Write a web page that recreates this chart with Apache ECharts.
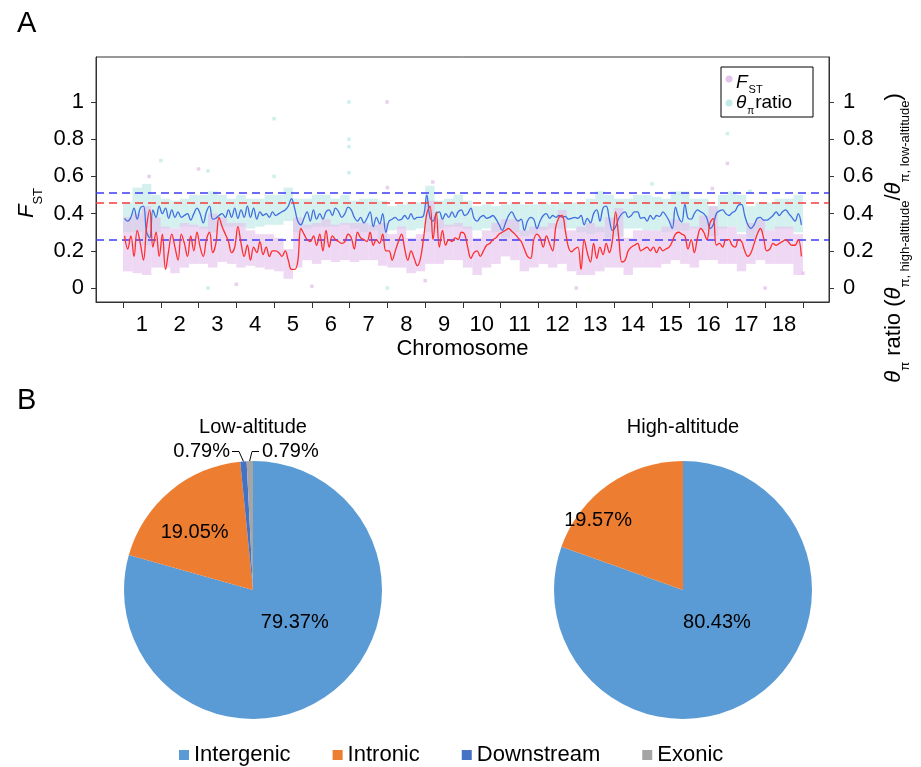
<!DOCTYPE html>
<html>
<head>
<meta charset="utf-8">
<script src="https://cdn.jsdelivr.net/npm/echarts@6/dist/echarts.min.js"></script>
<style>
  html, body { margin: 0; padding: 0; background: #ffffff; }
  #chart { width: 921px; height: 767px; }
</style>
</head>
<body>
<div id="chart"></div>
<script>
// ---- Panel A: genome scan (18 chromosomes, equal-width slots) ----
const chromosomes = ['1','2','3','4','5','6','7','8','9','10','11','12','13','14','15','16','17','18'];

// Smoothed F_ST along each chromosome (12 windows per chromosome)
const fstTrend = [
  [0.28,0.21,0.28,0.17,0.31,0.24,0.15,0.33,0.42,0.22,0.30,0.17],
  [0.29,0.10,0.20,0.29,0.22,0.15,0.29,0.24,0.17,0.28,0.20,0.30],
  [0.22,0.17,0.26,0.30,0.19,0.24,0.38,0.33,0.29,0.25,0.19,0.22],
  [0.33,0.24,0.17,0.23,0.15,0.22,0.19,0.25,0.18,0.22,0.17,0.20],
  [0.20,0.19,0.17,0.20,0.15,0.10,0.10,0.14,0.32,0.29,0.26,0.25],
  [0.28,0.23,0.29,0.20,0.31,0.22,0.28,0.26,0.25,0.24,0.25,0.29],
  [0.27,0.21,0.30,0.27,0.26,0.25,0.30,0.23,0.26,0.24,0.29,0.20],
  [0.20,0.15,0.20,0.25,0.29,0.21,0.15,0.20,0.16,0.12,0.16,0.27],
  [0.40,0.44,0.26,0.41,0.22,0.31,0.23,0.26,0.25,0.27,0.26,0.30],
  [0.29,0.22,0.16,0.19,0.20,0.17,0.20,0.23,0.24,0.26,0.27,0.29],
  [0.30,0.31,0.32,0.305,0.29,0.27,0.25,0.21,0.17,0.16,0.26,0.29],
  [0.27,0.22,0.28,0.24,0.20,0.33,0.38,0.39,0.31,0.22,0.195,0.21],
  [0.22,0.10,0.26,0.19,0.14,0.24,0.16,0.22,0.18,0.24,0.19,0.26],
  [0.41,0.27,0.14,0.15,0.20,0.22,0.23,0.24,0.20,0.21,0.22,0.20],
  [0.22,0.19,0.22,0.20,0.21,0.22,0.25,0.29,0.30,0.29,0.28,0.21],
  [0.26,0.19,0.27,0.32,0.30,0.26,0.35,0.375,0.23,0.24,0.22,0.26],
  [0.26,0.23,0.22,0.26,0.25,0.20,0.17,0.19,0.24,0.29,0.32,0.27],
  [0.20,0.21,0.24,0.23,0.24,0.25,0.26,0.245,0.23,0.23,0.26,0.17]
];

// Smoothed theta-pi ratio along each chromosome (12 windows per chromosome)
const thetaTrend = [
  [0.375,0.36,0.38,0.43,0.37,0.43,0.44,0.30,0.27,0.42,0.38,0.44],
  [0.40,0.43,0.375,0.42,0.38,0.41,0.38,0.39,0.40,0.365,0.40,0.43],
  [0.40,0.35,0.41,0.44,0.37,0.375,0.39,0.40,0.38,0.42,0.38,0.43],
  [0.375,0.42,0.38,0.44,0.38,0.43,0.37,0.41,0.39,0.40,0.38,0.41],
  [0.39,0.40,0.41,0.42,0.44,0.48,0.43,0.36,0.34,0.375,0.41,0.36],
  [0.42,0.37,0.40,0.37,0.41,0.42,0.39,0.43,0.41,0.38,0.40,0.435],
  [0.42,0.38,0.36,0.38,0.35,0.375,0.41,0.33,0.38,0.345,0.40,0.30],
  [0.36,0.37,0.38,0.365,0.37,0.39,0.37,0.40,0.37,0.38,0.38,0.39],
  [0.50,0.38,0.36,0.40,0.41,0.37,0.40,0.38,0.41,0.38,0.41,0.42],
  [0.39,0.40,0.43,0.375,0.36,0.38,0.39,0.375,0.38,0.39,0.37,0.34],
  [0.31,0.35,0.39,0.41,0.38,0.36,0.37,0.31,0.36,0.38,0.37,0.32],
  [0.36,0.39,0.40,0.375,0.39,0.38,0.39,0.38,0.385,0.37,0.375,0.38],
  [0.375,0.39,0.34,0.375,0.35,0.40,0.42,0.36,0.43,0.44,0.37,0.31],
  [0.33,0.375,0.40,0.41,0.38,0.39,0.41,0.41,0.375,0.38,0.36,0.39],
  [0.37,0.39,0.385,0.41,0.39,0.36,0.32,0.435,0.38,0.355,0.45,0.375],
  [0.37,0.40,0.42,0.41,0.40,0.375,0.32,0.34,0.40,0.415,0.42,0.40],
  [0.39,0.405,0.415,0.445,0.45,0.39,0.34,0.32,0.34,0.375,0.38,0.365],
  [0.365,0.375,0.39,0.41,0.39,0.41,0.42,0.40,0.38,0.36,0.40,0.34]
];

// Spread of per-window F_ST values: [low, high] for each quarter of a chromosome
const fstSpread = [
  [[0.09,0.38],[0.08,0.40],[0.07,0.44],[0.11,0.38]],
  [[0.11,0.33],[0.08,0.32],[0.11,0.35],[0.13,0.34]],
  [[0.13,0.33],[0.11,0.40],[0.14,0.38],[0.13,0.35]],
  [[0.11,0.35],[0.12,0.31],[0.11,0.29],[0.10,0.29]],
  [[0.09,0.27],[0.05,0.21],[0.11,0.38],[0.15,0.34]],
  [[0.13,0.35],[0.15,0.37],[0.14,0.34],[0.15,0.35]],
  [[0.14,0.35],[0.15,0.35],[0.15,0.34],[0.12,0.35]],
  [[0.11,0.29],[0.11,0.33],[0.08,0.27],[0.09,0.29]],
  [[0.13,0.47],[0.13,0.37],[0.15,0.34],[0.15,0.35]],
  [[0.11,0.33],[0.07,0.27],[0.11,0.31],[0.13,0.35]],
  [[0.17,0.37],[0.15,0.37],[0.09,0.31],[0.11,0.33]],
  [[0.13,0.33],[0.11,0.35],[0.13,0.42],[0.09,0.31]],
  [[0.07,0.33],[0.07,0.35],[0.09,0.33],[0.11,0.38]],
  [[0.11,0.43],[0.07,0.27],[0.11,0.31],[0.11,0.31]],
  [[0.11,0.31],[0.13,0.33],[0.15,0.37],[0.13,0.35]],
  [[0.11,0.33],[0.15,0.39],[0.15,0.44],[0.13,0.33]],
  [[0.13,0.33],[0.09,0.29],[0.13,0.35],[0.15,0.37]],
  [[0.13,0.31],[0.13,0.33],[0.13,0.33],[0.07,0.29]]
];

// Spread of per-window theta-pi ratios: [low, high] for each quarter of a chromosome
const thetaSpread = [
  [[0.30,0.46],[0.30,0.54],[0.23,0.56],[0.30,0.50]],
  [[0.32,0.48],[0.32,0.47],[0.33,0.48],[0.33,0.50]],
  [[0.32,0.50],[0.30,0.52],[0.33,0.50],[0.33,0.48]],
  [[0.33,0.50],[0.32,0.48],[0.33,0.48],[0.34,0.50]],
  [[0.34,0.50],[0.36,0.54],[0.30,0.48],[0.32,0.48]],
  [[0.33,0.50],[0.33,0.50],[0.33,0.48],[0.34,0.50]],
  [[0.32,0.47],[0.30,0.48],[0.31,0.48],[0.26,0.47]],
  [[0.31,0.44],[0.32,0.45],[0.31,0.46],[0.32,0.46]],
  [[0.30,0.55],[0.32,0.47],[0.33,0.48],[0.33,0.50]],
  [[0.32,0.47],[0.31,0.44],[0.32,0.45],[0.30,0.44]],
  [[0.27,0.45],[0.30,0.46],[0.28,0.45],[0.29,0.45]],
  [[0.31,0.46],[0.32,0.45],[0.32,0.46],[0.32,0.46]],
  [[0.30,0.46],[0.29,0.48],[0.30,0.52],[0.27,0.50]],
  [[0.28,0.48],[0.32,0.48],[0.32,0.50],[0.31,0.50]],
  [[0.31,0.49],[0.30,0.48],[0.31,0.52],[0.31,0.52]],
  [[0.32,0.48],[0.31,0.48],[0.28,0.44],[0.32,0.50]],
  [[0.33,0.52],[0.30,0.50],[0.27,0.44],[0.30,0.46]],
  [[0.31,0.46],[0.32,0.48],[0.32,0.48],[0.30,0.50]]
];

// Isolated windows far from the bulk: [genome position, value]
const fstOutliers = [[0.69,0.60],[2.0,0.64],[3.0,0.02],[5.0,0.01],[6.99,1.0],[7.0,0.54],
  [8.0,0.04],[8.2,0.57],[12.0,0.0],[15.6,0.535],[16.0,0.67],[17.0,0.0],[18.0,0.08]];
const thetaOutliers = [[1.0,0.685],[2.25,0.63],[2.25,0.0],[4.0,0.91],[4.0,0.60],[5.98,1.0],
  [5.98,0.80],[5.98,0.76],[5.98,0.62],[7.0,0.0],[14.0,0.56],[16.0,0.83],[16.6,0.52]];

// Significance cut-offs
const fstCutoff = 0.462;
const thetaCutoffs = [0.511, 0.258];

const yTicks = [0, 0.2, 0.4, 0.6, 0.8, 1];

// ---- Panel B: genomic location of candidate windows (percent) ----
const regionNames = ['Intergenic', 'Intronic', 'Downstream', 'Exonic'];
const lowAltitudeShare = [79.37, 19.05, 0.79, 0.79];
const highAltitudeShare = [80.43, 19.57];

// ---- styling ----
const FONT = "'Liberation Sans', Arial, Helvetica, sans-serif";
const regionColors = ['#5B9BD5', '#ED7D31', '#4472C4', '#A5A5A5'];
const fstDotColor = '#e6c3ec';
const thetaDotColor = '#c2ebe7';
const fstBandColor = 'rgba(228,192,236,0.62)';
const thetaBandColor = 'rgba(190,234,230,0.66)';
const axisColor = '#333333';

function trendPoints(rows) {
  const pts = [];
  rows.forEach((row, c) => row.forEach((v, i) => pts.push([c + (i + 0.5) / row.length, v])));
  return pts;
}
function spreadBins(rows) {
  const out = [];
  rows.forEach((row, c) => row.forEach((r, i) =>
    out.push([c + i / row.length, c + (i + 1) / row.length, r[0], r[1]])));
  return out;
}
function bandRenderer(color) {
  return function (params, api) {
    const topLeft = api.coord([api.value(0), api.value(3)]);
    const bottomRight = api.coord([api.value(1), api.value(2)]);
    return {
      type: 'rect',
      shape: { x: topLeft[0], y: topLeft[1], width: bottomRight[0] - topLeft[0], height: bottomRight[1] - topLeft[1] },
      style: { fill: color }
    };
  };
}

const tickFmt = v => String(Math.round(v * 10) / 10);
const genomeTicks = chromosomes.map((_, i) => i).concat([chromosomes.length]);
const genomeLabelPos = chromosomes.map((_, i) => i + 0.5);

function valueAxis(position, margin) {
  return {
    type: 'value', position: position, min: -0.075, max: 1.242,
    axisLine: { show: true, onZero: false, lineStyle: { color: axisColor, width: 1 } },
    axisTick: { show: true, customValues: yTicks, length: 5, inside: false, lineStyle: { color: axisColor } },
    axisLabel: { customValues: yTicks, formatter: tickFmt, fontSize: 22, color: '#000', fontFamily: FONT, margin: margin },
    splitLine: { show: false }
  };
}

// Pie geometry
const pieCenters = { low: [253, 590], high: [683, 590] };
const pieRadius = 129;

const chart = echarts.init(document.getElementById('chart'), null, { renderer: 'canvas' });

const option = {
  animation: false,
  backgroundColor: '#ffffff',
  textStyle: { fontFamily: FONT },
  title: [
    { text: 'A', left: 17, top: 9, padding: 0, textStyle: { fontSize: 29, fontWeight: 'normal', color: '#000', fontFamily: FONT } },
    { text: 'B', left: 17, top: 386, padding: 0, textStyle: { fontSize: 29, fontWeight: 'normal', color: '#000', fontFamily: FONT } },
    { text: 'Low-altitude', left: pieCenters.low[0], top: 417, padding: 0, textAlign: 'center',
      textStyle: { fontSize: 20, fontWeight: 'normal', color: '#000', fontFamily: FONT } },
    { text: 'High-altitude', left: pieCenters.high[0], top: 417, padding: 0, textAlign: 'center',
      textStyle: { fontSize: 20, fontWeight: 'normal', color: '#000', fontFamily: FONT } }
  ],
  legend: {
    data: regionNames, left: 179, top: 744, padding: 0, icon: 'rect', itemWidth: 10, itemHeight: 10, itemGap: 42,
    textStyle: { fontSize: 22, color: '#000', fontFamily: FONT }
  },
  grid: {
    left: 96, right: 92, top: 57, bottom: 465,
    show: true, borderColor: axisColor, borderWidth: 1, backgroundColor: 'transparent'
  },
  xAxis: {
    type: 'value', min: -0.715, max: 18.69,
    axisLine: { show: true, onZero: false, lineStyle: { color: axisColor, width: 1 } },
    axisTick: { show: true, customValues: genomeTicks, length: 6, lineStyle: { color: axisColor } },
    axisLabel: { customValues: genomeLabelPos, formatter: v => chromosomes[Math.floor(v)],
      fontSize: 22, color: '#000', fontFamily: FONT, margin: 12 },
    splitLine: { show: false },
    name: 'Chromosome', nameLocation: 'middle', nameGap: 36,
    nameTextStyle: { fontSize: 22, color: '#000', fontFamily: FONT }
  },
  yAxis: [valueAxis('left', 12), valueAxis('right', 14)],
  graphic: [
    // left axis title: F_ST
    { type: 'text', x: 28, y: 203, rotation: Math.PI / 2, z: 50,
      style: { text: '{i|F}{s|ST}', align: 'center', verticalAlign: 'middle', fill: '#000',
        rich: {
          i: { fontSize: 22, fontStyle: 'italic', fontFamily: FONT, lineHeight: 24, verticalAlign: 'top' },
          s: { fontSize: 13, fontFamily: FONT, lineHeight: 12, padding: [16, 0, 0, 0], verticalAlign: 'top' }
        } } },
    // right axis title: theta-pi ratio
    { type: 'text', x: 895, y: 238, rotation: Math.PI / 2, z: 50,
      style: { text: '{g|θ}{s|π}{m| ratio (}{g|θ}{s|π, high-altitude}{m|/}{g|θ}{s|π, low-altitude}{m|)}',
        align: 'center', verticalAlign: 'middle', fill: '#000',
        rich: {
          g: { fontSize: 22, fontStyle: 'italic', fontFamily: FONT, lineHeight: 24, verticalAlign: 'top' },
          m: { fontSize: 22, fontFamily: FONT, lineHeight: 24, verticalAlign: 'top' },
          s: { fontSize: 13, fontFamily: FONT, lineHeight: 12, padding: [16, 0, 0, 0], verticalAlign: 'top' }
        } } },
    // panel A key
    { type: 'rect', z: 60, shape: { x: 721, y: 67, width: 92, height: 50 },
      style: { fill: '#ffffff', stroke: '#000', lineWidth: 1 } },
    { type: 'circle', z: 61, shape: { cx: 729, cy: 79, r: 3.5 }, style: { fill: fstDotColor } },
    { type: 'circle', z: 61, shape: { cx: 729, cy: 103, r: 3.5 }, style: { fill: thetaDotColor } },
    { type: 'text', z: 61, x: 736, y: 83,
      style: { text: '{i|F}{s|ST}', align: 'left', verticalAlign: 'middle', fill: '#000',
        rich: {
          i: { fontSize: 19, fontStyle: 'italic', fontFamily: FONT, lineHeight: 20, verticalAlign: 'top' },
          s: { fontSize: 11, fontFamily: FONT, lineHeight: 10, padding: [11, 0, 0, 1], verticalAlign: 'top' }
        } } },
    { type: 'text', z: 61, x: 736, y: 103,
      style: { text: '{i|θ}{s|π}{m|ratio}', align: 'left', verticalAlign: 'middle', fill: '#000',
        rich: {
          i: { fontSize: 19, fontStyle: 'italic', fontFamily: FONT, lineHeight: 20, verticalAlign: 'top' },
          s: { fontSize: 10, fontFamily: FONT, lineHeight: 10, padding: [13, 1, 0, 1], verticalAlign: 'top' },
          m: { fontSize: 19, fontFamily: FONT, lineHeight: 20, verticalAlign: 'top' }
        } } }
  ],
  series: [
    {
      type: 'custom', name: 'θπ ratio spread', xAxisIndex: 0, yAxisIndex: 1, z: 1,
      renderItem: bandRenderer(thetaBandColor), encode: { x: [0, 1], y: [2, 3] },
      data: spreadBins(thetaSpread), silent: true
    },
    {
      type: 'custom', name: 'FST spread', xAxisIndex: 0, yAxisIndex: 0, z: 2,
      renderItem: bandRenderer(fstBandColor), encode: { x: [0, 1], y: [2, 3] },
      data: spreadBins(fstSpread), silent: true
    },
    {
      type: 'scatter', name: 'θπ ratio', yAxisIndex: 1, z: 3, symbol: 'rect', symbolSize: 3.5,
      itemStyle: { color: thetaDotColor }, data: thetaOutliers
    },
    {
      type: 'scatter', name: 'FST', yAxisIndex: 0, z: 3, symbol: 'rect', symbolSize: 3.5,
      itemStyle: { color: fstDotColor }, data: fstOutliers
    },
    {
      type: 'line', name: 'θπ ratio trend', yAxisIndex: 1, z: 4, smooth: 0.4, showSymbol: false,
      lineStyle: { color: '#3f6fe0', width: 1.3 }, data: trendPoints(thetaTrend),
      markLine: {
        silent: true, symbol: ['none', 'none'], label: { show: false },
        lineStyle: { color: '#3c3cf5', type: [8, 5], width: 1.5 },
        data: thetaCutoffs.map(v => ({ yAxis: v }))
      }
    },
    {
      type: 'line', name: 'FST trend', yAxisIndex: 0, z: 5, smooth: 0.4, showSymbol: false,
      lineStyle: { color: '#ff2d2d', width: 1.3 }, data: trendPoints(fstTrend),
      markLine: {
        silent: true, symbol: ['none', 'none'], label: { show: false },
        lineStyle: { color: '#f53c3c', type: [8, 5], width: 1.5 },
        data: [{ yAxis: fstCutoff }]
      }
    },
    {
      type: 'pie', name: 'Low-altitude', center: pieCenters.low, radius: pieRadius,
      startAngle: 90, clockwise: true, avoidLabelOverlap: false,
      label: { show: true, position: 'inside', formatter: '{c}%', fontSize: 20, color: '#000', fontFamily: FONT },
      labelLine: { show: false },
      data: lowAltitudeShare.map((v, i) => ({
        name: regionNames[i], value: v, itemStyle: { color: regionColors[i] },
        label: i >= 2 ? { position: 'outside' } : undefined,
        labelLine: i >= 2 ? { show: true, length: 6, length2: 6, lineStyle: { color: '#000', width: 1 } } : undefined
      })),
      labelLayout: function (p) {
        const cx = pieCenters.low[0], cy = pieCenters.low[1];
        if (p.dataIndex === 0) return { dx: 1, dy: -21 };
        if (p.dataIndex === 1) return { dx: -15, dy: -6 };
        if (p.dataIndex === 2) return { x: cx - 23, y: cy - 138.5, align: 'right', verticalAlign: 'middle',
          labelLinePoints: [[cx - 9.5, cy - 128.5], [cx - 14, cy - 138.5], [cx - 21, cy - 138.5]] };
        if (p.dataIndex === 3) return { x: cx + 9, y: cy - 138.5, align: 'left', verticalAlign: 'middle',
          labelLinePoints: [[cx - 3.5, cy - 128.5], [cx - 1, cy - 138.5], [cx + 6, cy - 138.5]] };
      }
    },
    {
      type: 'pie', name: 'High-altitude', center: pieCenters.high, radius: pieRadius,
      startAngle: 90, clockwise: true, avoidLabelOverlap: false,
      label: { show: true, position: 'inside', formatter: '{c}%', fontSize: 20, color: '#000', fontFamily: FONT },
      labelLine: { show: false },
      data: highAltitudeShare.map((v, i) => ({ name: regionNames[i], value: v, itemStyle: { color: regionColors[i] } })),
      labelLayout: function (p) {
        if (p.dataIndex === 0) return { dx: -5, dy: -23 };
        if (p.dataIndex === 1) return { dx: -46, dy: -14 };
      }
    }
  ]
};

chart.setOption(option);
</script>
</body>
</html>
